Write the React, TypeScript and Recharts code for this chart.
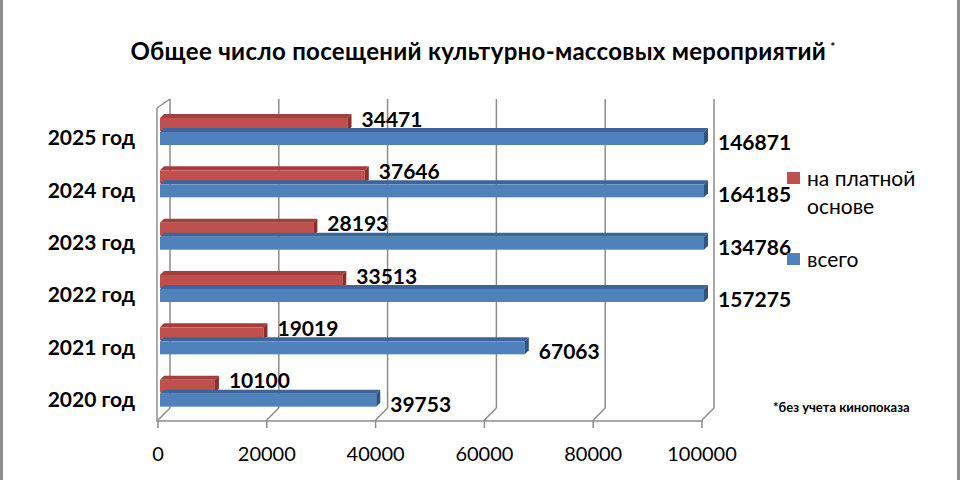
import React from 'react';
import { BarChart, Bar, XAxis, YAxis, CartesianGrid, LabelList } from 'recharts';

const categories = ['2020 год', '2021 год', '2022 год', '2023 год', '2024 год', '2025 год'];
const paidValues = [10100, 19019, 33513, 28193, 37646, 34471];
const totalValues = [39753, 67063, 157275, 134786, 164185, 146871];
const xTicks = [0, 20000, 40000, 60000, 80000, 100000];
const AXIS_MAX = 100000;
const seriesNames = ['на платной основе', 'всего'];
const seriesColors = ['#C0504D', '#4F81BD'];
const titleText = 'Общее число посещений культурно-массовых мероприятий';
const footnoteText = '*без учета кинопоказа';

const data = categories.map((c, i) => ({
  year: c,
  paid: paidValues[i],
  total: Math.min(totalValues[i], AXIS_MAX),
  paidLabel: paidValues[i],
  totalLabel: totalValues[i],
}));

const FONT = 'Lato, "Noto Sans", sans-serif';
const GRID = '#8c8c8c';
const DEPTH = 4;

const makeShape = (front: string, top: string, side: string) => (props: any) => {
  const { x, y, width, height } = props;
  if (!(width > 0)) return <g />;
  const d = DEPTH;
  return (
    <g>
      <polygon points={`${x},${y + d} ${x + d},${y} ${x + width + d},${y} ${x + width},${y + d}`} fill={top} />
      <rect x={x} y={y + d} width={width} height={height - d} fill={front} />
      <polygon
        points={`${x + width},${y + d} ${x + width + d},${y} ${x + width + d},${y + height - d} ${x + width},${y + height}`}
        fill={side}
      />
    </g>
  );
};

const paidShape = makeShape('#C0504D', '#A33F3C', '#8A2F2C');
const totalShape = makeShape('#4F81BD', '#3B659B', '#2E5484');

const makeLabel = (dyFn: (h: number) => number) => (props: any) => {
  const vb = props.viewBox || {};
  const x = props.x ?? vb.x;
  const y = props.y ?? vb.y;
  const width = props.width ?? vb.width;
  const height = props.height ?? vb.height;
  return (
    <text
      x={x + width + DEPTH + 10}
      y={y + dyFn(height)}
      dominantBaseline="central"
      fontFamily={FONT}
      fontWeight={700}
      fontSize={21}
      fill="#000"
    >
      {props.value}
    </text>
  );
};

const paidLabel = makeLabel(() => 4);
const totalLabel = makeLabel((h) => h / 2 + 5);

const XTick = (props: any) => {
  const { x, index, payload } = props;
  const fx = x - 2;
  return (
    <g>
      <line x1={x + 10} y1={408} x2={fx} y2={420} stroke={GRID} strokeWidth={1.5} />
      <line x1={fx} y1={420} x2={fx} y2={428} stroke={GRID} strokeWidth={1.5} />
      {index === 0 && <line x1={x - 3} y1={108} x2={x + 10} y2={99} stroke={GRID} strokeWidth={1.5} />}
      <text x={fx} y={453} textAnchor="middle" dominantBaseline="central" fontFamily={FONT} fontSize={20} fill="#000">
        {payload.value}
      </text>
    </g>
  );
};

const YTick = (props: any) => {
  const { y, payload } = props;
  return (
    <text x={135} y={y + 7.5} textAnchor="end" dominantBaseline="central" fontFamily={FONT} fontWeight={700} fontSize={21} fill="#000">
      {payload.value}
    </text>
  );
};

const gridX = (args: any) => {
  const xAxis = args?.xAxis;
  if (xAxis && typeof xAxis.scale === 'function') {
    return xTicks.map((v) => xAxis.scale(v) + 10);
  }
  const off = args.offset;
  return xTicks.map((v) => off.left + (v / AXIS_MAX) * off.width + 10);
};

export default function App() {
  return (
    <div
      style={{
        position: 'absolute',
        left: 0,
        top: 0,
        width: 960,
        height: 480,
        background: '#fff',
        boxSizing: 'border-box',
        borderLeft: '3px solid #8c8c8c',
        borderRight: '3px solid #8c8c8c',
        fontFamily: FONT,
      }}
    >
      <div style={{ position: 'absolute', left: -3, top: 0 }}>
        <BarChart
          width={960}
          height={480}
          data={data}
          layout="vertical"
          margin={{ top: 103, right: 256, bottom: 23, left: 10 }}
          barSize={17}
          barGap={-3}
        >
          <CartesianGrid
            horizontal={false}
            vertical
            y={99}
            height={309}
            stroke={GRID}
            strokeWidth={1.5}
            verticalCoordinatesGenerator={gridX}
          />
          <XAxis
            type="number"
            domain={[0, AXIS_MAX]}
            ticks={xTicks}
            interval={0}
            height={40}
            tickLine={false}
            axisLine={{ stroke: GRID, strokeWidth: 1.5, transform: 'translate(-2,4)' } as any}
            tick={<XTick />}
          />
          <YAxis
            type="category"
            dataKey="year"
            reversed
            width={150}
            tickLine={false}
            axisLine={{ stroke: GRID, strokeWidth: 1.5, transform: 'translate(-3,5)' } as any}
            tick={<YTick />}
          />
          <Bar dataKey="paid" name={seriesNames[0]} fill={seriesColors[0]} shape={paidShape} isAnimationActive={false}>
            <LabelList dataKey="paidLabel" content={paidLabel} />
          </Bar>
          <Bar dataKey="total" name={seriesNames[1]} fill={seriesColors[1]} shape={totalShape} isAnimationActive={false}>
            <LabelList dataKey="totalLabel" content={totalLabel} />
          </Bar>
        </BarChart>
      </div>

      <div
        style={{
          position: 'absolute',
          left: -3,
          top: 32,
          width: 966,
          textAlign: 'center',
          fontWeight: 700,
          fontSize: 24,
          letterSpacing: 0.3,
          lineHeight: '30px',
          color: '#000',
          whiteSpace: 'nowrap',
        }}
      >
        {titleText}
        <span style={{ fontSize: 12, verticalAlign: 'super', marginLeft: 4 }}>*</span>
      </div>

      <div style={{ position: 'absolute', left: 784, top: 172, width: 13, height: 12, background: seriesColors[0] }} />
      <div style={{ position: 'absolute', left: 804, top: 164, width: 130, fontSize: 21, lineHeight: '28px', color: '#000' }}>
        {seriesNames[0]}
      </div>
      <div style={{ position: 'absolute', left: 784, top: 253, width: 13, height: 12, background: seriesColors[1] }} />
      <div style={{ position: 'absolute', left: 804, top: 245, width: 130, fontSize: 21, lineHeight: '28px', color: '#000' }}>
        {seriesNames[1]}
      </div>

      <div style={{ position: 'absolute', left: 770, top: 399, fontSize: 13, fontWeight: 700, lineHeight: '16px', color: '#000', whiteSpace: 'nowrap' }}>
        {footnoteText}
      </div>
    </div>
  );
}
